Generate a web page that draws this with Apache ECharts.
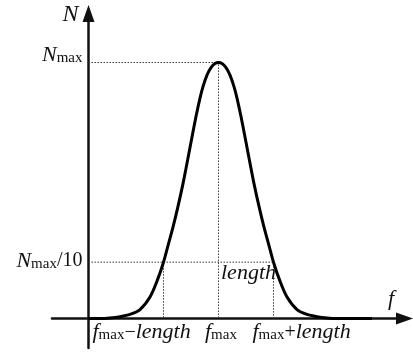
<!DOCTYPE html>
<html>
<head>
<meta charset="utf-8">
<script src="https://cdn.jsdelivr.net/npm/echarts@6/dist/echarts.min.js"></script>
<style>
  html, body { margin: 0; padding: 0; background: #fff; }
  #chart { width: 413px; height: 354px; }
</style>
</head>
<body>
<div id="chart"></div>
<script>
// Line profile N(f): frequency f (arbitrary units) against count N
const fValues = [0, 1.15, 2.15, 3.15, 4.15, 5.15, 6.15, 6.85, 7.5, 7.95, 8.45, 8.95, 9.45, 9.95,
                 10.35, 10.75, 11.15, 11.45, 11.85, 12.25, 12.65, 13,
                 13.35, 13.75, 14.15, 14.55, 14.85, 15.25, 15.65, 16.05, 16.55, 17.05, 17.55,
                 18.05, 18.5, 19.15, 19.85, 20.85, 21.85, 22.85, 23.85, 24.85, 28.35];
const nValues = [0, 0, 0.02, 0.07, 0.16, 0.35, 0.84, 1.46, 2.2, 2.85, 3.57, 4.38, 5.27, 6.27,
                 7.09, 7.89, 8.61, 9.06, 9.51, 9.8, 9.96, 10,
                 9.96, 9.8, 9.51, 9.06, 8.61, 7.89, 7.09, 6.27, 5.27, 4.38, 3.57,
                 2.85, 2.2, 1.46, 0.84, 0.35, 0.16, 0.07, 0.02, 0, 0];

// Reference levels of the profile
const fMax = 13;        // frequency of the maximum
const halfWidth = 5.5;  // "length": distance from f_max to the threshold crossings
const nMax = 10;        // peak value
const nLevel = 2.2;     // threshold level, marked N_max/10

// Tick and axis labels (rich-text markup)
const yTickLabels = ['{it|N}{sub|max}', '{it|N}{sub|max}{rm|/10}'];
const xTickLabels = ['{it|f}{sub|max}{rm|\u2212}{it|length}', '{it|f}{sub|max}', '{it|f}{sub|max}{rm|+}{it|length}'];
const widthLabel = '{it|length}';
const yAxisName = 'N';
const xAxisName = 'f';

const serif = '"Liberation Serif", "Times New Roman", serif';
const ink = '#111';
const rich = {
  it:  { fontFamily: serif, fontStyle: 'italic', fontSize: 22, color: ink },
  sub: { fontFamily: serif, fontSize: 15, color: ink, padding: [6, 0, 0, 0] },
  rm:  { fontFamily: serif, fontSize: 20, color: ink }
};

const curve = fValues.map((f, i) => [f, nValues[i]]);
const leftF = fMax - halfWidth;
const rightF = fMax + halfWidth;

const dotted = { color: '#3a3a3a', width: 1, type: [1.5, 1.5] };
const guide = (data) => ({
  type: 'line', data, symbol: 'none', silent: true, z: 1,
  lineStyle: dotted, animation: false
});

const axisLine = {
  onZero: true,
  symbol: ['none', 'triangle'],
  symbolSize: [12, 17],
  lineStyle: { color: ink, width: 2.5 }
};

const chart = echarts.init(document.getElementById('chart'), null, { renderer: 'canvas' });
chart.setOption({
  animation: false,
  backgroundColor: '#fff',
  grid: { left: 52, right: 8.5, top: 13.5, bottom: 6 },
  xAxis: {
    type: 'value', min: -3.65, max: 31.6,
    axisLine, axisTick: { show: false }, axisLabel: { show: false }, splitLine: { show: false }
  },
  yAxis: {
    type: 'value', min: -1.152, max: 11.914,
    axisLine, axisTick: { show: false }, axisLabel: { show: false }, splitLine: { show: false }
  },
  series: [
    guide([[0, nMax], [fMax, nMax], [fMax, 0]]),
    guide([[0, nLevel], [rightF, nLevel], [rightF, 0]]),
    guide([[leftF, nLevel], [leftF, 0]]),
    {
      type: 'line', data: curve, symbol: 'none', smooth: 0.3, z: 3,
      lineStyle: { color: '#000', width: 3 }
    }
  ]
});

const px = (f, n) => chart.convertToPixel({ gridIndex: 0 }, [f, n]);
const origin = px(0, 0);
const text = (x, y, str, align) => ({
  type: 'text', x, y, z: 10,
  style: { text: str, rich, align, verticalAlign: 'middle', fill: ink, fontFamily: serif }
});

const xLabelY = origin[1] + 14;
chart.setOption({
  graphic: [
    text(origin[0] - 6, px(0, nMax)[1] - 7, yTickLabels[0], 'right'),
    text(origin[0] - 6, px(0, nLevel)[1] - 1, yTickLabels[1], 'right'),
    text(px(leftF, 0)[0] - 71, xLabelY, xTickLabels[0], 'left'),
    text(px(fMax, 0)[0] - 13.5, xLabelY, xTickLabels[1], 'left'),
    text(px(rightF, 0)[0] - 21, xLabelY, xTickLabels[2], 'left'),
    text(px(fMax, 0)[0] + 2.5, px(0, nLevel)[1] + 11, widthLabel, 'left'),
    {
      type: 'text', x: origin[0] - 26, y: 15, z: 10,
      style: { text: yAxisName, fontFamily: serif, fontStyle: 'italic', fontSize: 24, fill: ink, align: 'left', verticalAlign: 'middle' }
    },
    {
      type: 'text', x: 391, y: origin[1] - 19, z: 10,
      style: { text: xAxisName, fontFamily: serif, fontStyle: 'italic', fontSize: 22, fill: ink, align: 'center', verticalAlign: 'middle' }
    }
  ]
});
</script>
</body>
</html>
